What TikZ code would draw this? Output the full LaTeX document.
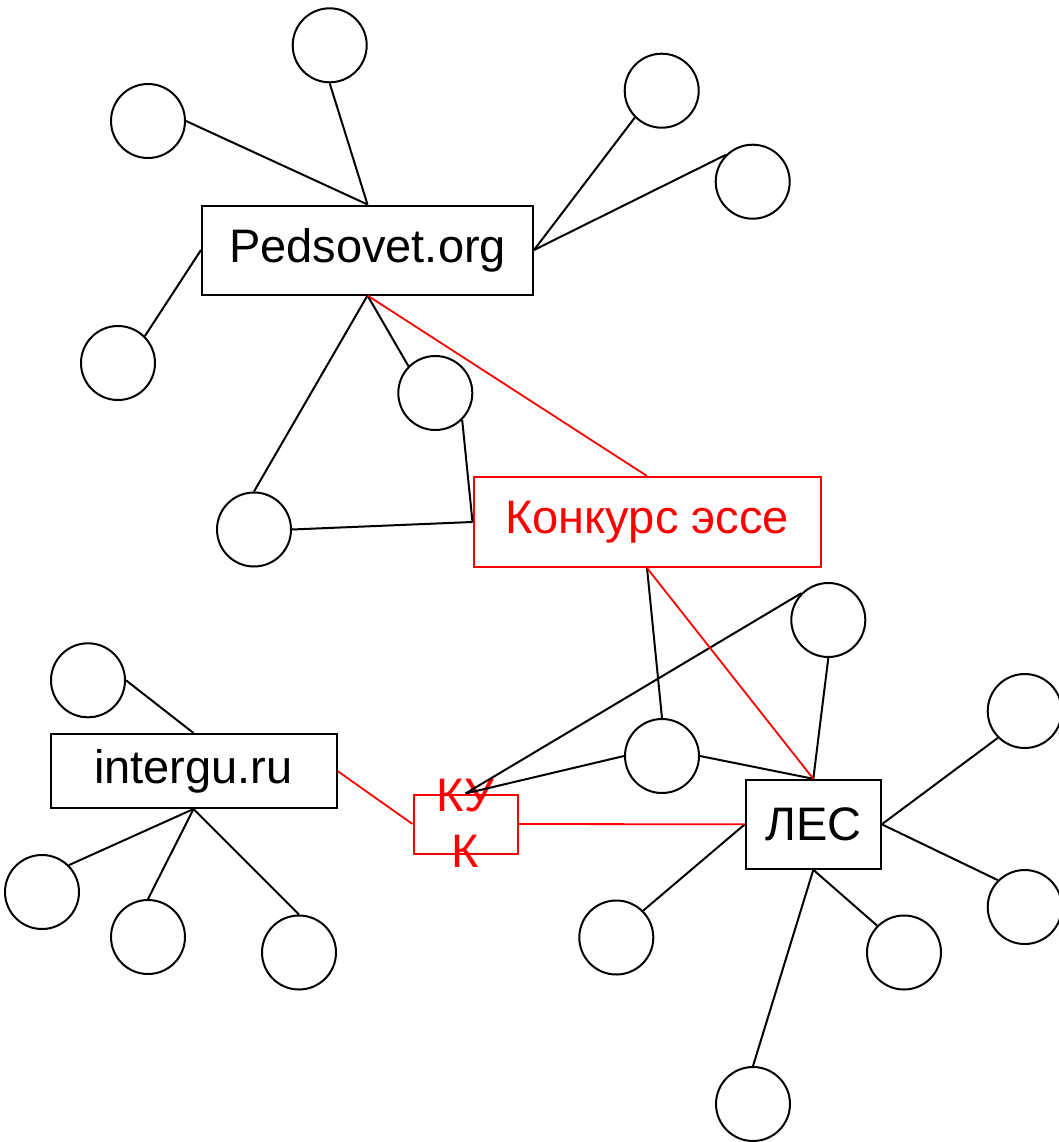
\documentclass[tikz,border=0pt]{standalone}
\usepackage{fontspec}
\setmainfont{Liberation Sans}
\begin{document}
\begin{tikzpicture}[x=1pt,y=-1pt,
  every node/.style={inner sep=0pt, font=\fontsize{47}{56}\selectfont},
  bbox/.style={draw, line width=2pt, rectangle},
  rbox/.style={draw=red, text=red, line width=2pt, rectangle},
  blob/.style={draw, line width=2pt, circle, minimum size=74pt},
  ln/.style={line width=2pt},
  rln/.style={draw=red, line width=1.8pt}]
\useasboundingbox (0,0) rectangle (1059,1142);
% boxes
\node[bbox, minimum width=331pt, minimum height=89pt] (P) at (367.5,250) {Pedsovet.org};
\node[rbox, minimum width=347pt, minimum height=90pt] (K) at (647,522) {Конкурс эссе};
\node[bbox, minimum width=286pt, minimum height=74pt] (I) at (193.5,771) {intergu.ru};
\node[rbox, minimum width=104pt, minimum height=59pt] (U) at (465.5,824) {};
\node[text=red, align=center] (Ut) at (465.5,823) {КУ\\К};
\node[bbox, minimum width=135pt, minimum height=89pt] (L) at (813.3,824.3) {ЛЕС};
% circles
\node[blob] (c1) at (329.7,45.3) {};
\node[blob] (c2) at (148,121) {};
\node[blob] (c3) at (661.7,90.7) {};
\node[blob] (c4) at (752.7,181.7) {};
\node[blob] (c5) at (118,363) {};
\node[blob] (c6) at (435.3,393) {};
\node[blob] (c7) at (254,529.5) {};
\node[blob] (c8) at (828.3,620) {};
\node[blob] (c9) at (88,680.3) {};
\node[blob] (c10) at (662,756) {};
\node[blob] (c11) at (1024.7,711) {};
\node[blob] (c12) at (42,892) {};
\node[blob] (c13) at (148,937) {};
\node[blob] (c14) at (299,952.5) {};
\node[blob] (c15) at (616.3,937.5) {};
\node[blob] (c16) at (1024.7,907) {};
\node[blob] (c17) at (904,952.5) {};
\node[blob] (c18) at (753,1104) {};
% black connectors
\draw[ln] (P.north) -- (c1.south);
\draw[ln] (P.north) -- (c2.east);
\draw[ln] (P.east) -- (c3.south west);
\draw[ln] (P.east) -- (c4.north west);
\draw[ln] (P.west) -- (c5.north east);
\draw[ln] (P.south) -- (c7.north);
\draw[ln] (P.south) -- (c6.north west);
\draw[ln] (c6.south east) -- (K.west);
\draw[ln] (c7.east) -- (K.west);
\draw[ln] (K.south) -- (c10.north);
\draw[ln] (c8.north west) -- (U.north);
\draw[ln] (c10.west) -- (U.north);
\draw[ln] (c10.east) -- (L.north);
\draw[ln] (c8.south) -- (L.north);
\draw[ln] (L.west) -- (c15.north east);
\draw[ln] (L.east) -- (c11.south west);
\draw[ln] (L.east) -- (c16.north west);
\draw[ln] (L.south) -- (c17.north west);
\draw[ln] (L.south) -- (c18.north);
\draw[ln] (I.north) -- (c9.east);
\draw[ln] (I.south) -- (c12.north east);
\draw[ln] (I.south) -- (c13.north);
\draw[ln] (I.south) -- (c14.north);
% red connectors
\draw[rln] (P.south) -- (K.north);
\draw[rln] (K.south) -- (L.north);
\draw[rln] (I.east) -- (U.west);
\draw[rln] (U.east) -- (L.west);
\end{tikzpicture}
\end{document}
